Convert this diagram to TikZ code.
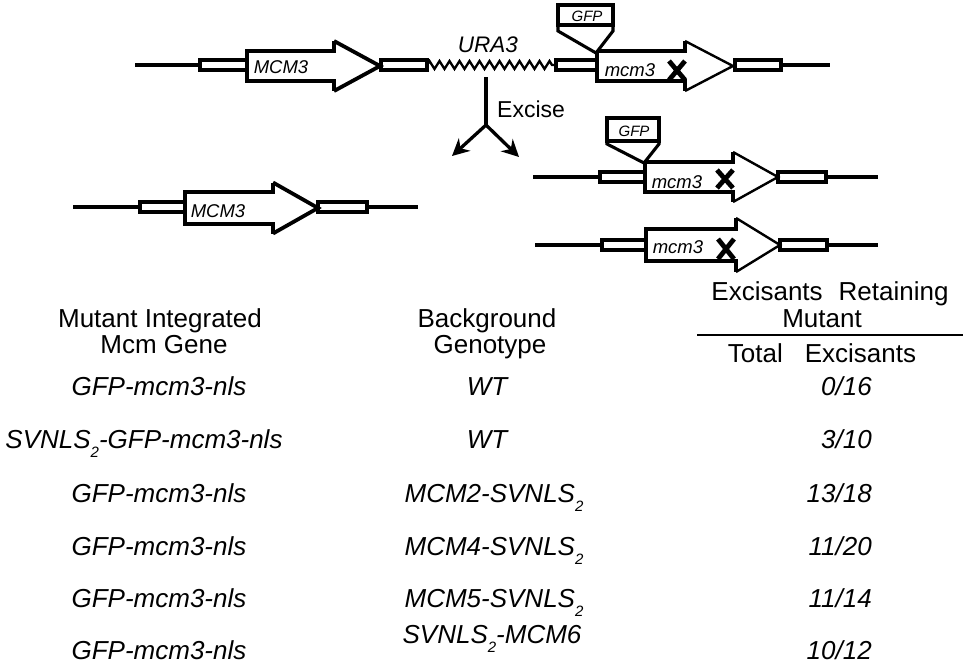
\documentclass[tikz,border=0pt]{standalone}
\usepackage{fontspec}
\setmainfont{Liberation Sans}
\usetikzlibrary{arrows.meta,decorations.pathmorphing}

\tikzset{
  dna/.style={line width=3.3pt},
  flank/.style={line width=3.1pt, fill=white, draw=black},
  gfpbox/.style={line width=3.1pt, fill=white, draw=black, line join=miter},
  xmark/.style={line width=4.8pt},
  hdr/.style={font=\fontsize{26}{28}\selectfont, anchor=base, inner sep=0pt},
  cell/.style={font=\fontsize{26}{28}\selectfont\itshape, anchor=base, inner sep=0pt},
  cellr/.style={font=\fontsize{26}{28}\selectfont\itshape, anchor=base east, inner sep=0pt},
  glab/.style={font=\fontsize{18.5}{18.5}\selectfont\itshape, anchor=base, inner sep=0pt},
  gfplab/.style={font=\fontsize{15}{15}\selectfont\itshape, anchor=base, inner sep=0pt},
  excarrow/.style={line width=3.3pt, -{Stealth[length=17pt,width=17pt]}},
}

% #1 x0, #2 head base x, #3 tip x, #4 centre y, #5 body half height, #6 head half height, #7 head side style
\newcommand{\GeneArrow}[7]{%
  \fill[white] (#1,{#4-#5}) -- (#2,{#4-#5}) -- (#2,{#4-#6}) -- (#3,#4) -- (#2,{#4+#6}) -- (#2,{#4+#5}) -- (#1,{#4+#5}) -- cycle;
  \draw[line width=3.8pt, line join=miter] (#2,{#4-#6}) -- (#2,{#4-#5}) -- (#1,{#4-#5}) -- (#1,{#4+#5}) -- (#2,{#4+#5}) -- (#2,{#4+#6});
  \draw[#7, line join=miter] (#2,{#4-#6}) -- (#3,#4) -- (#2,{#4+#6});
}
\newcommand{\SubTwo}{\raisebox{-9pt}{\fontsize{15}{15}\selectfont 2}}

\begin{document}
\begin{tikzpicture}[x=1pt,y=-1pt]
\useasboundingbox (0,0) rectangle (963,664);

% ---------- top construct ----------
\draw[dna] (135,65) -- (200,65);
\draw[dna] (781,65) -- (830,65);
\draw[line width=2.3pt, decorate, decoration={zigzag, segment length=10pt, amplitude=4pt}] (427,65) -- (556,65);
\draw[flank] (200,60) rectangle (247,70);
\draw[flank] (381,60) rectangle (427,70);
\draw[flank] (556,60) rectangle (597,70);
\draw[flank] (735,60) rectangle (781,70);
\GeneArrow{247}{334}{380}{66}{15}{25}{line width=3.8pt}
\GeneArrow{597}{685}{733}{66}{15}{25}{line width=2.4pt}
\node[glab] (topMCM) at (281,73) {MCM3};
\node[glab] (topmcm) at (630,76) {mcm3};
\draw[xmark] (669,61) -- (685,80) (685,61) -- (669,80);
\node[font=\fontsize{22.5}{22.5}\selectfont\itshape, anchor=base, inner sep=0pt] (ura) at (488,52) {URA3};
% GFP insert
\draw[gfpbox] (558,25) -- (558,31) -- (596,53) -- (613,31) -- (613,25);
\draw[gfpbox] (558,5) rectangle (613,25);
\node[gfplab] (gfpA) at (587,21) {GFP};

% ---------- excise ----------
\coordinate (exTop) at (486,77);
\coordinate (exMid) at (486,125);
\coordinate (exL) at (452,156);
\coordinate (exR) at (519,157);
\draw[line width=3.3pt] (exTop) -- (exMid);
\draw[excarrow] (exMid) -- (exL);
\draw[excarrow] (exMid) -- (exR);
\node[font=\fontsize{23}{23}\selectfont, anchor=base west, inner sep=0pt] (exc) at (497,117) {Excise};

% ---------- left product ----------
\draw[dna] (73,207) -- (140,207);
\draw[dna] (367,207) -- (418,207);
\draw[flank] (140,202) rectangle (185,212);
\draw[flank] (318,202) rectangle (367,212);
\GeneArrow{185}{273}{318}{208}{16}{25.5}{line width=3.8pt}
\node[glab] (midMCM) at (218,217) {MCM3};

% ---------- right products ----------
\draw[dna] (533,177) -- (600,177);
\draw[dna] (826,177) -- (878,177);
\draw[flank] (600,172) rectangle (645,182);
\draw[flank] (778,172) rectangle (826,182);
\GeneArrow{645}{733}{778}{177}{15}{25}{line width=2.4pt}
\node[glab] (r1mcm) at (677,188) {mcm3};
\draw[xmark] (717,170) -- (733,188) (733,170) -- (717,188);
\draw[gfpbox] (607,141) -- (607,144) -- (644,163) -- (659,144) -- (659,141);
\draw[gfpbox] (607,118) rectangle (659,141);
\node[gfplab] (gfpB) at (634,136) {GFP};

\draw[dna] (535,245) -- (602,245);
\draw[dna] (827,245) -- (878,245);
\draw[flank] (602,240) rectangle (646,250);
\draw[flank] (780,240) rectangle (827,250);
\GeneArrow{646}{736}{780}{245}{16}{27}{line width=2.4pt}
\node[glab] (r2mcm) at (678,253) {mcm3};
\draw[xmark] (718,239) -- (734,259) (734,239) -- (718,259);

% ---------- table headers ----------
\node[hdr] (h1a) at (160,327) {Mutant Integrated};
\node[hdr] (h1b) at (164,353) {Mcm Gene};
\node[hdr] (h2a) at (487,327) {Background};
\node[hdr] (h2b) at (490,353) {Genotype};
\node[hdr] (h3a) at (830,300) {Excisants\hspace{16pt}Retaining};
\node[hdr] (h3b) at (822,327) {Mutant};
\node[hdr] (h3c) at (822,362) {Total\hspace{22pt}Excisants};
\coordinate (ruleL) at (697,335);
\coordinate (ruleR) at (963,335);
\draw[line width=1.6pt] (ruleL) -- (ruleR);

% ---------- table rows ----------
\node[cell] (a1) at (159,395) {GFP-mcm3-nls};
\node[cell] (a2) at (144,448) {SVNLS\SubTwo-GFP-mcm3-nls};
\node[cell] (a3) at (159,502) {GFP-mcm3-nls};
\node[cell] (a4) at (159,555) {GFP-mcm3-nls};
\node[cell] (a5) at (159,607) {GFP-mcm3-nls};
\node[cell] (a6) at (159,659) {GFP-mcm3-nls};

\node[cell] (b1) at (487,395) {WT};
\node[cell] (b2) at (487,448) {WT};
\node[cell] (b3) at (494,502) {MCM2-SVNLS\SubTwo};
\node[cell] (b4) at (494,555) {MCM4-SVNLS\SubTwo};
\node[cell] (b5) at (494,607) {MCM5-SVNLS\SubTwo};
\node[cell] (b6) at (492,643) {SVNLS\SubTwo-MCM6};

\node[cellr] (c1) at (872,395) {0/16};
\node[cellr] (c2) at (872,448) {3/10};
\node[cellr] (c3) at (872,502) {13/18};
\node[cellr] (c4) at (872,555) {11/20};
\node[cellr] (c5) at (872,607) {11/14};
\node[cellr] (c6) at (872,659) {10/12};
\end{tikzpicture}
\end{document}
